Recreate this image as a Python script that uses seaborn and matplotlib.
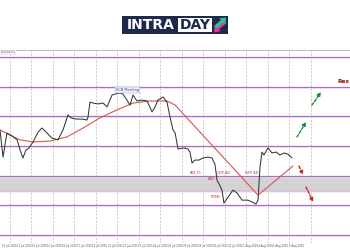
import numpy as np
import pandas as pd
import matplotlib
matplotlib.use("Agg")
import matplotlib.pyplot as plt
from matplotlib.patches import Rectangle, Polygon
import seaborn as sns

# ---------------- data ----------------
price_t = [-0.61, -0.41, -0.15, 0.19, 0.52, 0.72, 0.91, 1.11, 1.31, 1.58, 1.91, 2.17, 2.50, 2.83,
           3.23, 3.56, 3.89, 4.09, 4.42, 4.82, 5.15, 5.22, 5.35, 5.55, 5.88, 6.21, 6.48, 6.81,
           7.01, 7.34, 7.54, 7.80, 8.00, 8.20, 8.46, 8.79, 9.13, 9.19, 9.46, 9.66, 9.85, 10.19,
           10.45, 10.65, 10.85, 10.99, 11.18, 11.58, 11.84, 11.97, 12.11, 12.30, 12.57, 12.83,
           13.17, 13.43, 13.63, 13.76, 13.96, 14.09, 14.22, 14.49, 14.82, 15.09, 15.42, 15.81,
           16.08, 16.34, 16.48, 16.61, 16.74, 16.87, 17.14, 17.40, 17.67, 17.93, 18.20, 18.46, 18.73]
price_v = [1.1654, 1.1563, 1.1644, 1.1634, 1.1621, 1.1587, 1.1560, 1.1587, 1.1594, 1.1614, 1.1647,
           1.1661, 1.1644, 1.1627, 1.1621, 1.1654, 1.1705, 1.1695, 1.1691, 1.1691, 1.1688, 1.1698,
           1.1748, 1.1745, 1.1742, 1.1745, 1.1732, 1.1772, 1.1775, 1.1779, 1.1775, 1.1755, 1.1738,
           1.1772, 1.1752, 1.1755, 1.1752, 1.1745, 1.1715, 1.1732, 1.1755, 1.1765, 1.1748, 1.1698,
           1.1654, 1.1644, 1.1590, 1.1594, 1.1590, 1.1580, 1.1543, 1.1553, 1.1553, 1.1560, 1.1563,
           1.1560, 1.1538, 1.1486, 1.1466, 1.1452, 1.1408, 1.1428, 1.1452, 1.1442, 1.1418, 1.1418,
           1.1412, 1.1405, 1.1418, 1.1530, 1.1580, 1.1570, 1.1594, 1.1577, 1.1580, 1.1570, 1.1577,
           1.1573, 1.1560]

ma_t = [-0.61, 0.05, 0.72, 1.58, 2.70, 3.83, 4.89, 6.01, 7.14, 8.20, 9.32, 10.45, 10.99, 16.48, 18.79]
ma_v = [1.1654, 1.1637, 1.1621, 1.1614, 1.1617, 1.1631, 1.1661, 1.1695, 1.1722, 1.1745, 1.1752,
        1.1752, 1.1738, 1.1435, 1.1533]

levels = [1.19, 1.18, 1.17, 1.16, 1.15, 1.145, 1.14, 1.13]
band = [1.145, 1.15]

tick_labels = ["10 Jul 2025", "11 Jul 2025", "14 Jul 2025", "15 Jul 2025", "16 Jul 2025",
               "17 Jul 2025", "18 Jul 2025", "21 Jul 2025", "22 Jul 2025", "23 Jul 2025",
               "24 Jul 2025", "25 Jul 2025", "28 Jul 2025", "29 Jul 2025", "30 Jul 2025",
               "31 Jul 2025", "1 Aug 2025", "4 Aug 2025", "5 Aug 2025", "6 Aug 2025"]

bull_arrows = [((19.06, 1.1631), (19.66, 1.1681)), ((20.05, 1.1738), (20.65, 1.1782))]
bear_arrows = [((19.19, 1.1533), (19.46, 1.1503)), ((19.66, 1.1462), (20.13, 1.1412))]

events = ["ADL75", "GDP AD", "NFP AD", "ADP", "FOMC"]
event_t = [12.37, 14.16, 16.08, 13.43, 13.70]
event_v = [1.1509, 1.1509, 1.1509, 1.1489, 1.1427]

ecb_label = "ECB Meeting"
ecb_t, ecb_v = 7.83, 1.1789
res_label = "Res"
res_v = 1.1816

# ---------------- figure ----------------
sns.set_style("white")
plt.rcParams['font.family'] = ['DejaVu Sans']
fig = plt.figure(figsize=(3.5, 2.5), dpi=100)
fig.patch.set_facecolor("white")
ax = fig.add_axes([0.0, 0.028, 1.0, 0.772])

ax.set_xlim(-0.61, 22.57)
ax.set_ylim(1.12737, 1.19236)

# vertical dashed grid
for g in 0.053 + 1.4219 * np.arange(15):
    ax.axvline(g, color="#b8b8b8", lw=0.5, ls=(0, (3, 2)), zorder=0)

# band
ax.axhspan(band[0], band[1], color="#d3d3d3", zorder=0.5, lw=0)
# levels
for lv in levels:
    ax.axhline(lv, color="#a66fc4", lw=0.9, zorder=1)
    ax.axhline(lv - 0.00028, color="#ecd6f0", lw=0.6, zorder=1)

dfp = pd.DataFrame({"t": price_t, "v": price_v})
dfm = pd.DataFrame({"t": ma_t, "v": ma_v})
sns.lineplot(data=dfm, x="t", y="v", ax=ax, color="#d9534f", lw=0.8, zorder=3, sort=False)
sns.lineplot(data=dfp, x="t", y="v", ax=ax, color="#2e3a30", lw=0.75, zorder=4, sort=False)

for (a, b) in bull_arrows:
    ax.annotate("", xy=b, xytext=a,
                arrowprops=dict(arrowstyle="-|>", color="#1e8a2e", lw=1.0, ls=(0, (2, 1.2)),
                                mutation_scale=5, shrinkA=0, shrinkB=0), zorder=5)
for (a, b) in bear_arrows:
    ax.annotate("", xy=b, xytext=a,
                arrowprops=dict(arrowstyle="-|>", color="#d42020", lw=1.0, ls=(0, (2, 1.2)),
                                mutation_scale=5, shrinkA=0, shrinkB=0), zorder=5)

for lab, t, v in zip(events, event_t, event_v):
    ax.text(t, v, lab, fontsize=2.6, color="#c0392b", ha="center", va="center", zorder=6)

ax.text(ecb_t, ecb_v, ecb_label, fontsize=2.6, color="#3050a0", ha="center", va="center",
        zorder=6, bbox=dict(boxstyle="square,pad=0.25", fc="#eef0fb", ec="#9aa0d0", lw=0.3))
ax.text(0.998, res_v, res_label, fontsize=4.2, color="#8b1010", fontweight="bold",
        ha="right", va="center", zorder=6, transform=ax.get_yaxis_transform())

ax.set_xticks(np.arange(len(tick_labels)))
ax.set_xticklabels(tick_labels, fontsize=1.9, color="#555555")
ax.tick_params(axis="x", length=0, pad=1)
ax.set_yticks([])
ax.set_xlabel("")
ax.set_ylabel("")
for s in ["left", "right", "bottom"]:
    ax.spines[s].set_visible(False)
ax.spines["top"].set_color("#b0b0b0")
ax.spines["top"].set_linewidth(0.6)

# small symbol label at top-left
fig.text(0.002, 0.792, "EURUSD,H1", fontsize=1.8, color="#777777", ha="left", va="center",
         bbox=dict(boxstyle="square,pad=0.2", fc="#eeeeee", ec="none"))

# ---------------- logo ----------------
W, H = 350.0, 250.0
def fx(px): return px / W
def fy(py): return 1 - py / H
navy = "#1d2a4d"
fig.patches.append(Rectangle((fx(122), fy(34)), fx(228) - fx(122), fy(15.7) - fy(34),
                             transform=fig.transFigure, fc=navy, ec="none", zorder=1))
fig.patches.append(Rectangle((fx(178), fy(32)), fx(212) - fx(178), fy(18) - fy(32),
                             transform=fig.transFigure, fc="white", ec="none", zorder=2))
fig.text(fx(150.5), fy(25.2), "INTRA", fontsize=10, fontweight="bold", color="white",
         ha="center", va="center", zorder=3)
fig.text(fx(195), fy(25.2), "DAY", fontsize=10, fontweight="bold", color=navy,
         ha="center", va="center", zorder=3)
green_pts = [(214, 26), (221, 20), (219, 18.5), (226, 17.5), (225.5, 24), (223.5, 22.5), (216.5, 28.5)]
pink_pts = [(226, 23.5), (219, 29.5), (221, 31), (214, 32.5), (214.5, 26.5), (216.5, 27.5), (223.5, 21.5)]
fig.patches.append(Polygon([(fx(a), fy(b)) for a, b in pink_pts], closed=True,
                           transform=fig.transFigure, fc="#e0359a", ec="none", zorder=3))
fig.patches.append(Polygon([(fx(a), fy(b)) for a, b in green_pts], closed=True,
                           transform=fig.transFigure, fc="#2fc48a", ec="none", zorder=4))

fig.savefig("out.png", dpi=100, facecolor="white")
